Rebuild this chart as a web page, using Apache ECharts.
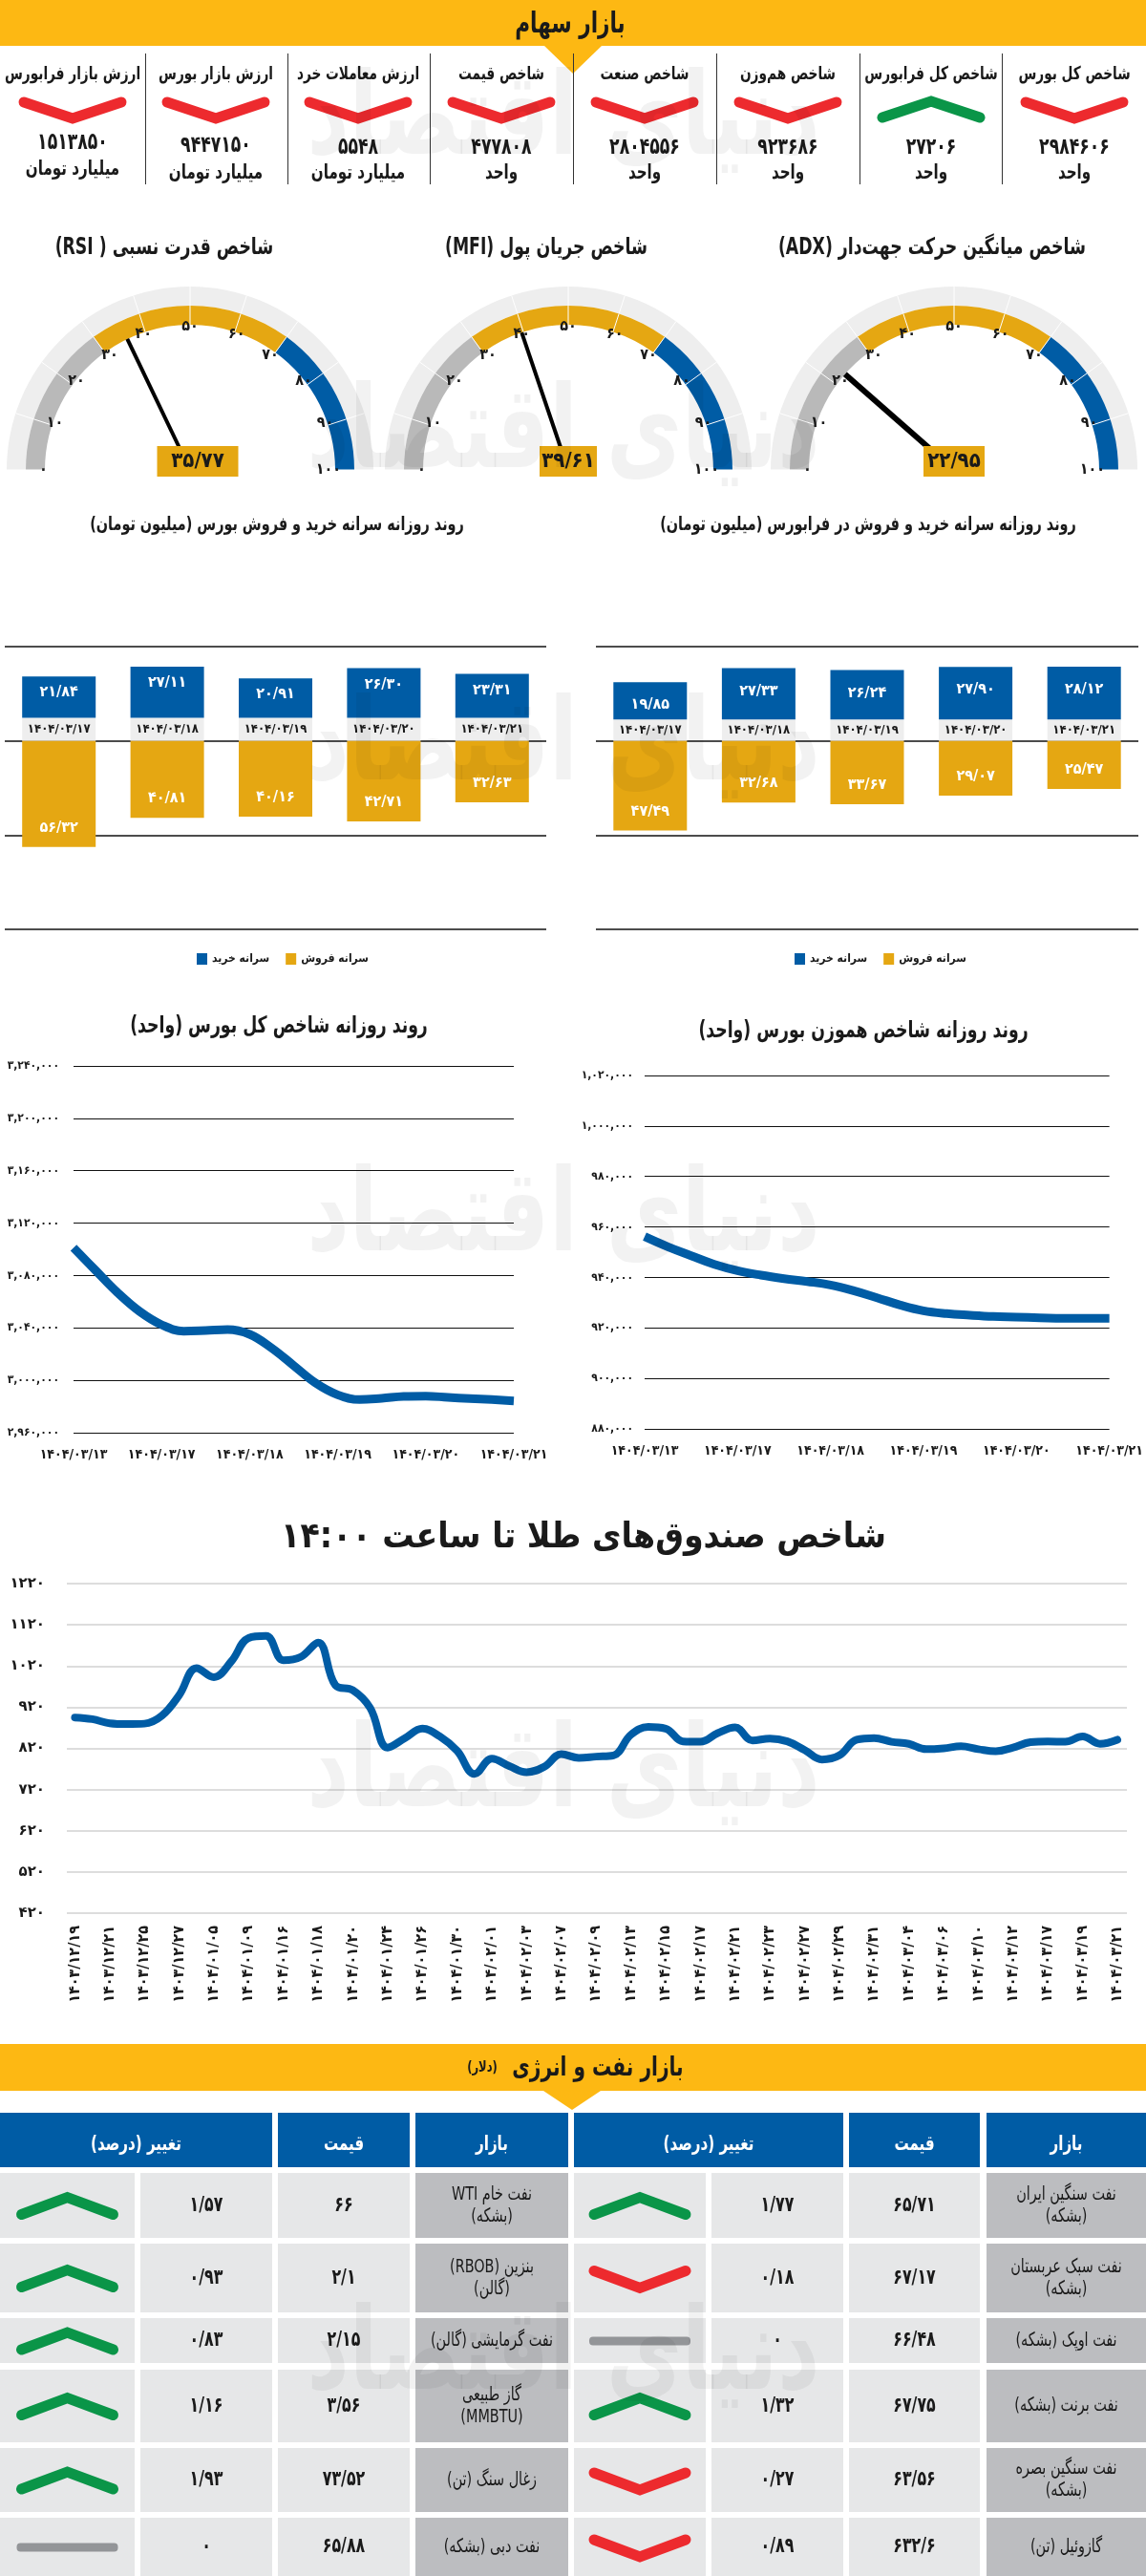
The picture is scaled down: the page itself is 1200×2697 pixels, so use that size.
<!DOCTYPE html>
<html dir="rtl">
<head>
<meta charset="utf-8" />
<title>بازار سهام</title>
<script src="https://cdn.jsdelivr.net/npm/echarts@6/dist/echarts.min.js"></script>
<style>
  html, body { margin: 0; padding: 0; background: #fff; }
  #main { width: 1200px; height: 2697px; }
</style>
</head>
<body>
<div id="main"></div>
<script type="text/javascript">
// --- data ---
var kpiTitles = ['شاخص کل بورس', 'شاخص کل فرابورس', 'شاخص هم‌وزن', 'شاخص صنعت', 'شاخص قیمت', 'ارزش معاملات خرد', 'ارزش بازار بورس', 'ارزش بازار فرابورس'];
var kpiValues = ['۲۹۸۴۶۰۶', '۲۷۲۰۶', '۹۲۳۶۸۶', '۲۸۰۴۵۵۶', '۴۷۷۸۰۸', '۵۵۴۸', '۹۴۴۷۱۵۰', '۱۵۱۳۸۵۰'];
var kpiUnits = ['واحد', 'واحد', 'واحد', 'واحد', 'واحد', 'میلیارد تومان', 'میلیارد تومان', 'میلیارد تومان'];
var kpiTrend = ['down', 'up', 'down', 'down', 'down', 'down', 'down', 'down'];

var gaugeNames = ['شاخص میانگین حرکت جهت‌دار (ADX)', 'شاخص جریان پول (MFI)', 'شاخص قدرت نسبی ( RSI)'];
var gaugeValues = [22.95, 39.61, 35.77];

var barDates = ['۱۴۰۴/۰۳/۱۷', '۱۴۰۴/۰۳/۱۸', '۱۴۰۴/۰۳/۱۹', '۱۴۰۴/۰۳/۲۰', '۱۴۰۴/۰۳/۲۱'];
var bourseBuy = [21.84, 27.11, 20.91, 26.30, 23.31];
var bourseSell = [56.32, 40.81, 40.16, 42.71, 32.63];
var fraBuy = [19.85, 27.33, 26.24, 27.90, 28.12];
var fraSell = [47.49, 32.68, 33.67, 29.07, 25.47];

// the line runs through more points than it has printed dates: three between each pair
var lineDates = ['۱۴۰۴/۰۳/۱۳', '۱۴۰۴/۰۳/۱۷', '۱۴۰۴/۰۳/۱۸', '۱۴۰۴/۰۳/۱۹', '۱۴۰۴/۰۳/۲۰', '۱۴۰۴/۰۳/۲۱'];
var totalIndex = [3101200, 3083950, 3066940, 3052600, 3042390, 3037530, 3038020, 3038750, 3035100, 3024650, 3011280, 2997910, 2988920, 2985270, 2986250, 2987700, 2987950, 2986975, 2986000, 2985270, 2984300];
var equalIndex = [956180, 952140, 948610, 945200, 942680, 940920, 939530, 938390, 937000, 934740, 931960, 929060, 926790, 925650, 925020, 924520, 924270, 924010, 923760, 923760, 923760];

var goldDates = ['۱۴۰۳/۱۲/۱۹', '۱۴۰۳/۱۲/۲۱', '۱۴۰۳/۱۲/۲۵', '۱۴۰۳/۱۲/۲۷', '۱۴۰۴/۰۱/۰۵', '۱۴۰۴/۰۱/۰۹', '۱۴۰۴/۰۱/۱۶', '۱۴۰۴/۰۱/۱۸', '۱۴۰۴/۰۱/۲۰', '۱۴۰۴/۰۱/۲۴', '۱۴۰۴/۰۱/۲۶', '۱۴۰۴/۰۱/۳۰', '۱۴۰۴/۰۲/۰۱', '۱۴۰۴/۰۲/۰۳', '۱۴۰۴/۰۲/۰۷', '۱۴۰۴/۰۲/۰۹', '۱۴۰۴/۰۲/۱۳', '۱۴۰۴/۰۲/۱۵', '۱۴۰۴/۰۲/۱۷', '۱۴۰۴/۰۲/۲۱', '۱۴۰۴/۰۲/۲۳', '۱۴۰۴/۰۲/۲۷', '۱۴۰۴/۰۲/۲۹', '۱۴۰۴/۰۲/۳۱', '۱۴۰۴/۰۳/۰۴', '۱۴۰۴/۰۳/۰۶', '۱۴۰۴/۰۳/۱۰', '۱۴۰۴/۰۳/۱۲', '۱۴۰۴/۰۳/۱۷', '۱۴۰۴/۰۳/۱۹', '۱۴۰۴/۰۳/۲۱'];
var goldValues = [895, 891, 881, 879, 880, 899, 949, 1015, 993, 1031, 1088, 1093, 1034, 1042, 1077, 973, 961, 918, 822, 845, 868, 849, 814, 758, 795, 777, 762, 775, 806,
  797, 800, 803, 853, 872, 868, 837, 836, 857, 871, 839, 844, 837, 816, 793, 803, 841, 845, 836, 831, 818, 820, 825, 818, 813, 822, 835, 837, 836, 849, 831, 841];

// table, right block then left block
var oilMarkets = ['نفت سنگین ایران\n(بشکه)', 'نفت سبک عربستان\n(بشکه)', 'نفت اوپک (بشکه)', 'نفت برنت (بشکه)', 'نفت سنگین بصره\n(بشکه)', 'گازوئیل (تن)'];
var oilPrices = ['۶۵/۷۱', '۶۷/۱۷', '۶۶/۴۸', '۶۷/۷۵', '۶۳/۵۶', '۶۳۲/۶'];
var oilChange = ['۱/۷۷', '۰/۱۸', '۰', '۱/۳۲', '۰/۲۷', '۰/۸۹'];
var oilTrend = ['up', 'down', 'flat', 'up', 'down', 'down'];
var energyMarkets = ['نفت خام WTI\n(بشکه)', 'بنزین (RBOB)\n(گالن)', 'نفت گرمایشی (گالن)', 'گاز طبیعی\n(MMBTU)', 'زغال سنگ (تن)', 'نفت دبی (بشکه)'];
var energyPrices = ['۶۶', '۲/۱', '۲/۱۵', '۳/۵۶', '۷۳/۵۲', '۶۵/۸۸'];
var energyChange = ['۱/۵۷', '۰/۹۳', '۰/۸۳', '۱/۱۶', '۱/۹۳', '۰'];
var energyTrend = ['up', 'up', 'up', 'up', 'up', 'flat'];

// --- styles ---
var FONT = '"DejaVu Sans Condensed","DejaVu Sans",sans-serif';
var WIDE = '"DejaVu Sans",sans-serif';
var YELLOW = '#FDB813', GOLD = '#E5A712', BLUE = '#005CA5', INK = '#1a1a1a';
var RED = '#ED2A2E', GREEN = '#0A9548', GRAY = '#939598';

function toFa(v) {
    return String(v).replace(/\d/g, function (d) { return '۰۱۲۳۴۵۶۷۸۹'[d]; }).replace(/\./g, '/');
}
function toFaNum(v) {
    return toFa(String(v).replace(/\B(?=(\d{3})+(?!\d))/g, ','));
}

var g = [];
// the printed face is narrow, so text is squeezed a bit around its own centre
function text(str, x, y, font, fill, lineHeight, squeeze) {
    var el = { type: 'text', silent: true, z: 20, scaleX: squeeze || 0.8, originX: x, originY: y,
        style: { text: str, x: x, y: y, font: font, fill: fill || INK, align: 'center', verticalAlign: 'middle' } };
    if (lineHeight) { el.style.lineHeight = lineHeight; }
    g.push(el);
}
function box(x, y, w, h, fill) {
    g.push({ type: 'rect', silent: true, z: 10, shape: { x: x, y: y, width: w, height: h }, style: { fill: fill } });
}
function trendIcon(cx, cy, w, h, dir) {
    if (dir === 'flat') {
        g.push({ type: 'rect', silent: true, z: 15, shape: { x: cx - w / 2, y: cy - 5, width: w, height: 9, r: 4 }, style: { fill: GRAY } });
        return;
    }
    var s = dir === 'up' ? -1 : 1;
    g.push({
        type: 'polyline', silent: true, z: 15,
        shape: { points: [[cx - w / 2 + 5, cy - s * (h / 2 - 6)], [cx, cy + s * (h / 2 - 5)], [cx + w / 2 - 5, cy - s * (h / 2 - 6)]] },
        style: { stroke: dir === 'up' ? GREEN : RED, lineWidth: 11, lineCap: 'round', lineJoin: 'miter', fill: null }
    });
}
function banner(y0, y1, tipY, cx) {
    box(0, y0, 1200, y1 - y0, YELLOW);
    g.push({ type: 'polygon', silent: true, z: 10, shape: { points: [[cx - 30, y1], [cx + 30, y1], [cx, tipY]] }, style: { fill: YELLOW } });
}

// top banner and kpi strip
banner(0, 48, 77, 600);
text('بازار سهام', 597, 26, 'bold 30px ' + FONT);
var kpiX = [1125, 975, 825, 675, 525, 375, 226, 76];
var kpiDividers = [1049, 900, 750, 600, 450, 301, 152];
var kpiValueY = [155, 155, 155, 155, 155, 155, 153, 150];
var kpiUnitY = [182, 182, 182, 182, 182, 182, 182, 178];
kpiDividers.forEach(function (x) { box(x, 56, 1, 137, '#333'); });
kpiTitles.forEach(function (t, i) {
    text(t, kpiX[i], 78, 'bold 19px ' + FONT);
    trendIcon(kpiX[i], 115, 112, 28, kpiTrend[i]);
    text(kpiValues[i], kpiX[i], kpiValueY[i], 'bold 24px ' + FONT);
    text(kpiUnits[i], kpiX[i], kpiUnitY[i], 'bold 21px ' + FONT);
});

// gauge and section titles
var gaugeX = [999, 595, 199], gaugeTitleX = [976, 572, 172];
gaugeNames.forEach(function (t, i) { text(t, gaugeTitleX[i], 260, 'bold 24px ' + FONT); });
text('روند روزانه سرانه خرید و فروش بورس (میلیون تومان)', 290, 550, 'bold 20px ' + FONT);
text('روند روزانه سرانه خرید و فروش در فرابورس (میلیون تومان)', 909, 550, 'bold 20px ' + FONT);
text('روند روزانه شاخص کل بورس (واحد)', 292, 1075, 'bold 24px ' + FONT);
text('روند روزانه شاخص هموزن بورس (واحد)', 904, 1080, 'bold 24px ' + FONT);
text('شاخص صندوق‌های طلا تا ساعت ۱۴:۰۰', 611, 1610, 'bold 37px ' + WIDE, INK, 0, 0.9);

// oil table
banner(2140, 2189, 2209, 599);
text('بازار نفت و انرژی', 626, 2166, 'bold 28px ' + FONT);
text('(دلار)', 505, 2165, 'bold 16px ' + FONT);
var headEdges = [[1033, 167], [889, 137], [601, 282], [435, 160], [291, 138], [0, 285]];
var headLabels = ['بازار', 'قیمت', 'تغییر (درصد)', 'بازار', 'قیمت', 'تغییر (درصد)'];
headEdges.forEach(function (c, i) {
    box(c[0], 2212, c[1], 57, BLUE);
    text(headLabels[i], c[0] + c[1] / 2, 2246, 'bold 21px ' + FONT, '#fff');
});
var rowTop = [2275, 2349, 2427, 2481, 2563, 2636];
var rowH = [68, 72, 47, 76, 67, 61];
var cellCols = { rMarket: [1033, 167], rPrice: [889, 137], rChange: [745, 138], rIcon: [601, 138], lMarket: [435, 160], lPrice: [291, 138], lChange: [147, 138], lIcon: [0, 141] };
function tableBlock(cols, markets, prices, changes, trends) {
    markets.forEach(function (m, r) {
        var y = rowTop[r], h = rowH[r], mid = y + h / 2;
        box(cols[0][0], y, cols[0][1], h, '#BCBDC0');
        box(cols[1][0], y, cols[1][1], h, '#E6E7E8');
        box(cols[2][0], y, cols[2][1], h, '#E6E7E8');
        box(cols[3][0], y, cols[3][1], h, '#E6E7E8');
        text(m, cols[0][0] + cols[0][1] / 2, mid, '20px ' + FONT, INK, 23);
        text(prices[r], cols[1][0] + cols[1][1] / 2, mid, 'bold 22px ' + FONT);
        text(changes[r], cols[2][0] + cols[2][1] / 2, mid, 'bold 22px ' + FONT);
        trendIcon(cols[3][0] + cols[3][1] / 2, mid + 1, 106, 29, trends[r]);
    });
}
tableBlock([cellCols.rMarket, cellCols.rPrice, cellCols.rChange, cellCols.rIcon], oilMarkets, oilPrices, oilChange, oilTrend);
tableBlock([cellCols.lMarket, cellCols.lPrice, cellCols.lChange, cellCols.lIcon], energyMarkets, energyPrices, energyChange, energyTrend);

// faint site mark laid over everything
[130, 458, 785, 1278, 1860, 2470].forEach(function (y) {
    g.push({ type: 'text', silent: true, z: 100, scaleX: 0.72, originX: 590, originY: y,
        style: { text: 'دنیای اقتصاد', x: 590, y: y, font: 'bold 120px ' + WIDE, fill: 'rgba(0,0,0,0.05)', align: 'center', verticalAlign: 'middle' } });
});

// --- gauges ---
function gaugeSeries(i) {
    var cx = gaugeX[i];
    var common = { type: 'gauge', center: [cx, 492], startAngle: 180, endAngle: 0, min: 0, max: 100, splitNumber: 10, silent: true, animation: false, data: [{ value: gaugeValues[i] }], title: { show: false } };
    var ring = Object.assign({}, common, {
        radius: 192,
        axisLine: { lineStyle: { width: 20, color: [[1, '#EEEEEE']] } },
        axisTick: { show: false }, axisLabel: { show: false }, pointer: { show: false }, detail: { show: false },
        splitLine: { distance: -20, length: 20, lineStyle: { color: '#fff', width: 1 } }
    });
    var main = Object.assign({}, common, {
        radius: 172,
        axisLine: { lineStyle: { width: 20, color: [[0.3, '#B9B9B9'], [0.7, GOLD], [1, BLUE]] } },
        axisTick: { show: false },
        splitLine: { distance: -20, length: 20, lineStyle: { color: '#fff', width: 1 } },
        axisLabel: { distance: 14, fontFamily: FONT, fontWeight: 'bold', fontSize: 16, color: INK, formatter: function (v) { return toFa(v); } },
        pointer: { icon: 'rect', length: 152, width: i === 0 ? 6 : 4, itemStyle: { color: '#000' } },
        detail: { show: false }
    });
    // the value box sits on its own series so that it covers the needle foot
    var box = Object.assign({}, common, {
        z: 5, radius: 172,
        axisLine: { show: false }, axisTick: { show: false }, splitLine: { show: false }, axisLabel: { show: false }, pointer: { show: false },
        detail: {
            formatter: function (v) { return toFa(v.toFixed(2)); }, offsetCenter: [i === 2 ? 8 : 0, -9],
            backgroundColor: GOLD, width: [64, 60, 85][i], height: 32, lineHeight: 32, padding: 0,
            fontFamily: FONT, fontWeight: 'bold', fontSize: 22, color: INK
        }
    });
    return [ring, main, box];
}

// --- bar charts ---
var spacerValue = [12.3, 11.3];
function barSeries(idx, buy, sell) {
    var base = { type: 'bar', stack: 'flow' + idx, barWidth: 77, xAxisIndex: idx, yAxisIndex: idx, animation: false, silent: true };
    var dist = [9, 16];
    return [
        Object.assign({}, base, {
            name: 'تاریخ', data: barDates.map(function () { return spacerValue[idx]; }), itemStyle: { color: '#EEEEEE' },
            label: { show: true, position: 'inside', fontFamily: FONT, fontWeight: 'bold', fontSize: 13, color: INK, formatter: function (p) { return barDates[p.dataIndex]; } }
        }),
        Object.assign({}, base, {
            name: 'سرانه خرید', data: buy, itemStyle: { color: BLUE },
            label: { show: true, position: 'insideTop', distance: dist[idx], fontFamily: FONT, fontWeight: 'bold', fontSize: 16, color: '#fff', formatter: function (p) { return toFa(p.value.toFixed(2)); } }
        }),
        Object.assign({}, base, {
            name: 'سرانه فروش', data: sell.map(function (v) { return -v; }), itemStyle: { color: GOLD },
            label: { show: true, position: 'insideBottom', distance: 12, fontFamily: FONT, fontWeight: 'bold', fontSize: 16, color: '#fff', formatter: function (p) { return toFa((-p.value).toFixed(2)); } }
        })
    ];
}
function flowAxes(i) {
    return {
        x: { type: 'category', gridIndex: i, data: barDates, show: false },
        y: { type: 'value', gridIndex: i, min: -100, max: 50, interval: 50, axisLine: { show: false }, axisTick: { show: false }, axisLabel: { show: false }, splitLine: { lineStyle: { color: '#111', width: 1.5 } } }
    };
}

// --- line charts ---
// put `gap` unprinted positions between printed dates
function spread(dates, gap) {
    var out = [];
    dates.forEach(function (d, i) {
        if (i) { for (var k = 0; k < gap; k++) { out.push(''); } }
        out.push(d);
    });
    return out;
}
function indexAxes(i, min, max, step, data, margin) {
    return {
        x: { type: 'category', gridIndex: i, data: data, boundaryGap: false, axisLine: { show: false }, axisTick: { show: false }, splitLine: { show: false },
            axisLabel: { interval: 0, margin: 16, fontFamily: FONT, fontWeight: 'bold', fontSize: 14, color: INK } },
        y: { type: 'value', gridIndex: i, min: min, max: max, interval: step, axisLine: { show: false }, axisTick: { show: false },
            axisLabel: { margin: margin, fontFamily: FONT, fontWeight: 'bold', fontSize: 12, color: INK, formatter: toFaNum },
            splitLine: { lineStyle: { color: '#111', width: 1 } } }
    };
}
function indexSeries(i, values, width, cap) {
    return { type: 'line', xAxisIndex: i, yAxisIndex: i, data: values, smooth: 0.4, showSymbol: false, animation: false, silent: true,
        lineStyle: { color: BLUE, width: width, cap: cap, join: 'round' } };
}

var ax = [flowAxes(0), flowAxes(1),
    indexAxes(2, 2960000, 3240000, 40000, spread(lineDates, 3), 15),
    indexAxes(3, 880000, 1020000, 20000, spread(lineDates, 3), 12)];

// gold chart: frame grid holds the y axis, data grid is a little narrower
var goldCats = spread(goldDates, 1);
var goldFrameY = { type: 'value', gridIndex: 4, min: 420, max: 1220, interval: 100, axisLine: { show: false }, axisTick: { show: false },
    axisLabel: { margin: 23, fontFamily: WIDE, fontWeight: 'bold', fontSize: 15, color: INK, formatter: function (v) { return toFa(v); } },
    splitLine: { lineStyle: { color: '#DDDDDD', width: 2 } } };
var goldFrameX = { type: 'category', gridIndex: 4, show: false, data: goldCats };
var goldDataY = { type: 'value', gridIndex: 5, min: 420, max: 1220, interval: 100, show: false, splitLine: { show: false } };
var goldDataX = { type: 'category', gridIndex: 5, data: goldCats, boundaryGap: false, axisLine: { show: false }, axisTick: { show: false },
    axisLabel: { interval: 0, rotate: 90, margin: 13, fontFamily: FONT, fontWeight: 'bold', fontSize: 16, color: INK } };

var legendStyle = { fontFamily: FONT, fontWeight: 'bold', fontSize: 12, color: INK };
var option = {
    backgroundColor: '#fff',
    animation: false,
    textStyle: { fontFamily: FONT },
    grid: [
        { left: 5, top: 677, width: 567, height: 296 },
        { left: 624, top: 677, width: 568, height: 296 },
        { left: 77, top: 1116, width: 461, height: 384 },
        { left: 675, top: 1126, width: 490, height: 370 },
        { left: 70, top: 1658, width: 1110, height: 345 },
        { left: 78.4, top: 1658, width: 1091.6, height: 345 }
    ],
    xAxis: ax.map(function (a) { return a.x; }).concat([goldFrameX, goldDataX]),
    yAxis: ax.map(function (a) { return a.y; }).concat([goldFrameY, goldDataY]),
    legend: [
        { data: ['سرانه خرید', 'سرانه فروش'], left: 201, top: 993, icon: 'rect', itemWidth: 11, itemHeight: 12, itemGap: 17, selectedMode: false, textStyle: legendStyle },
        { data: ['سرانه خرید', 'سرانه فروش'], left: 827, top: 993, icon: 'rect', itemWidth: 11, itemHeight: 12, itemGap: 17, selectedMode: false, textStyle: legendStyle }
    ],
    graphic: { elements: g },
    series: [].concat(
        gaugeSeries(0), gaugeSeries(1), gaugeSeries(2),
        barSeries(0, bourseBuy, bourseSell),
        barSeries(1, fraBuy, fraSell),
        [indexSeries(2, totalIndex, 9, 'butt'), indexSeries(3, equalIndex, 9, 'butt'), indexSeries(5, goldValues, 8, 'round')]
    )
};

var myChart = echarts.init(document.getElementById('main'), null, { renderer: 'canvas', width: 1200, height: 2697 });
myChart.setOption(option);
</script>
</body>
</html>
